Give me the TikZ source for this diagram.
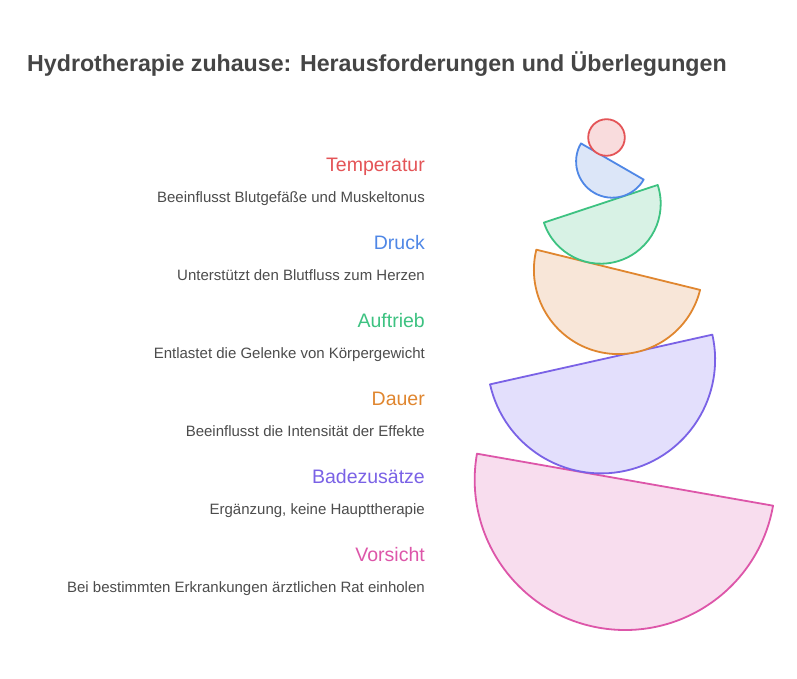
\documentclass[tikz,border=0pt]{standalone}
\usepackage{fontspec}
\setmainfont{Liberation Sans}
\begin{document}
\begin{tikzpicture}[x=1pt,y=1pt,
  ttl/.style={anchor=base west,inner sep=0pt,text=black!73,font=\fontsize{23.2}{27}\selectfont\bfseries},
  lbl/.style={anchor=base east,inner sep=0pt,font=\fontsize{19.5}{23}\selectfont},
  desc/.style={anchor=base east,inner sep=0pt,text=black!70,font=\fontsize{15}{18}\selectfont},
  shp/.style={line width=1.8pt,line join=round}]
\definecolor{cred}{HTML}{E45457}\definecolor{fred}{HTML}{F9DCDD}
\definecolor{cblue}{HTML}{4F87E6}\definecolor{fblue}{HTML}{DCE6F8}
\definecolor{cgreen}{HTML}{3DC281}\definecolor{fgreen}{HTML}{D8F2E5}
\definecolor{corange}{HTML}{E0862F}\definecolor{forange}{HTML}{F8E6D8}
\definecolor{cpurple}{HTML}{7A62E6}\definecolor{fpurple}{HTML}{E3DFFC}
\definecolor{cpink}{HTML}{DD56A9}\definecolor{fpink}{HTML}{F8DDEE}
\useasboundingbox (0,0) rectangle (797,679);
\fill[white] (0,0) rectangle (797,679);
% title
\node[ttl] (title) at (27,607) {Hydrotherapie zuhause: Herausforderungen und Überlegungen};
% labels
\node[lbl,text=cred] (l1) at (425,507) {Temperatur};
\node[desc] (d1) at (425,476) {Beeinflusst Blutgefäße und Muskeltonus};
\node[lbl,text=cblue] (l2) at (425,429) {Druck};
\node[desc] (d2) at (425,398) {Unterstützt den Blutfluss zum Herzen};
\node[lbl,text=cgreen] (l3) at (425,351) {Auftrieb};
\node[desc] (d3) at (425,320) {Entlastet die Gelenke von Körpergewicht};
\node[lbl,text=corange] (l4) at (425,273) {Dauer};
\node[desc] (d4) at (425,242) {Beeinflusst die Intensität der Effekte};
\node[lbl,text=cpurple] (l5) at (425,195) {Badezusätze};
\node[desc] (d5) at (425,164) {Ergänzung, keine Haupttherapie};
\node[lbl,text=cpink] (l6) at (425,117) {Vorsicht};
\node[desc] (d6) at (425,86) {Bei bestimmten Erkrankungen ärztlichen Rat einholen};
% shapes (half disks)
\draw[shp,draw=cpink,fill=fpink] (625,199.3) ++(170.04:150.3) arc[start angle=170.04,end angle=350.04,radius=150.3] -- cycle;
\draw[shp,draw=cpurple,fill=fpurple] (601.2,319.5) ++(192.6:113.9) arc[start angle=192.6,end angle=372.6,radius=113.9] -- cycle;
\draw[shp,draw=corange,fill=forange] (618.2,409.2) ++(166.2:84.3) arc[start angle=166.2,end angle=346.2,radius=84.3] -- cycle;
\draw[shp,draw=cgreen,fill=fgreen] (600.8,475.2) ++(198.3:59.9) arc[start angle=198.3,end angle=378.3,radius=59.9] -- cycle;
\draw[shp,draw=cblue,fill=fblue] (612.3,517.5) ++(150:36.2) arc[start angle=150,end angle=330,radius=36.2] -- cycle;
\draw[shp,draw=cred,fill=fred] (606.5,541.5) circle[radius=18.3];
\end{tikzpicture}
\end{document}
